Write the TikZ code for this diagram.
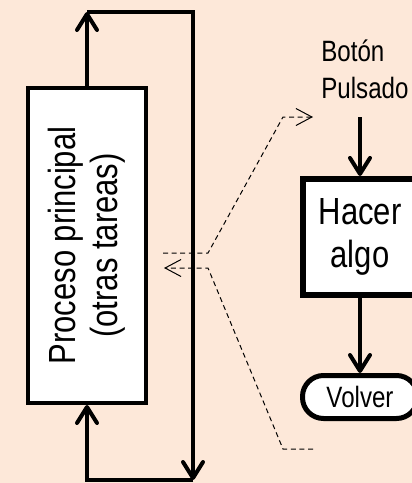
\documentclass[tikz,border=0pt]{standalone}
\usepackage{fontspec}
\setmainfont[FakeStretch=0.82]{Liberation Sans}
\usetikzlibrary{arrows.meta,positioning,calc}
\definecolor{Peach}{RGB}{253,232,217}
\tikzset{
  bigbox/.style={rectangle,draw,fill=white,line width=2pt,inner sep=0pt},
  taskbox/.style={rectangle,draw,fill=white,line width=2.8pt,inner sep=0pt,
                  minimum width=57.25pt,minimum height=58.25pt,align=center,
                  font=\fontsize{18.9}{21.5}\selectfont},
  endbox/.style={rectangle,rounded corners=10.5pt,draw,fill=white,line width=2.5pt,
                 minimum width=57.5pt,minimum height=21.5pt,inner sep=0pt,
                 font=\fontsize{14.7}{18.5}\selectfont},
  flow/.style={-{Straight Barb[round,length=8pt,width=10pt]},line width=2pt},
  irq/.style={-{Straight Barb[length=8pt,width=8.5pt]},line width=0.5pt,
              dash pattern=on 2.5pt off 1.8pt},
}

\begin{document}
\begin{tikzpicture}[x=0.5pt,y=-0.5pt]
  \useasboundingbox (0,0) rectangle (412,483);
  \clip (0,0) rectangle (412,483);
  \fill[Peach] (0,0) rectangle (412,483);
  % interrupt jumps (dashed)
  \coordinate (out1) at (163,253);
  \coordinate (k1) at (208,253);
  \coordinate (k2) at (283,117);
  \coordinate (in1) at (313,117);
  \coordinate (in2) at (313,449);
  \coordinate (k3) at (283,449);
  \coordinate (k4) at (208,268);
  \coordinate (out2) at (164,268);
  \draw[irq] (out1) -- (k1) -- (k2) -- (in1);
  \draw[irq] (in2) -- (k3) -- (k4) -- (out2);
  % main loop
  \node[bigbox,minimum width=59pt,minimum height=157.5pt] (proc) at (87,245.5) {};
  \node[rotate=90,align=center,font=\fontsize{18.9}{21}\selectfont] (proctext)
    at (proc.center) {Proceso principal\\(otras tareas)};
  \coordinate (tl) at (87,12);
  \coordinate (tr) at (193,12);
  \coordinate (br) at (193,480);
  \coordinate (bl) at (87,480);
  \draw[flow] (proc.north) -- (tl);
  \draw[flow] (tl) -- (tr) -- (br);
  \draw[flow] (br) -- (bl) -- (proc.south);
  % interrupt routine
  \node[anchor=base west,align=left,inner sep=0pt,
        font=\fontsize{14.7}{18.5}\selectfont] (btn) at (321,98) {Botón\\Pulsado};
  \coordinate (press) at (360,117);
  \node[taskbox] (task) at (360,237) {Hacer\\algo};
  \node[endbox] (back) at (360,397) {Volver};
  \draw[flow] (press) -- (task.north);
  \draw[flow] (task.south) -- (back.north);
\end{tikzpicture}
\end{document}
